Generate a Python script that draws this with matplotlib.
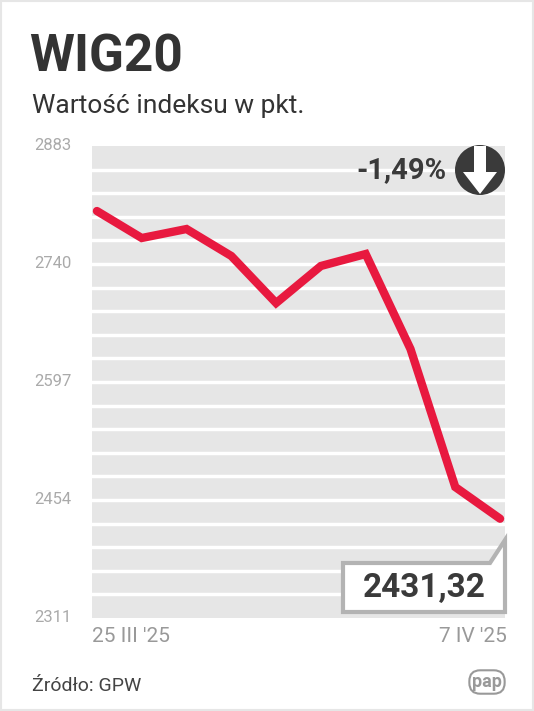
import matplotlib
matplotlib.use("Agg")
import matplotlib.pyplot as plt
from matplotlib.patches import Polygon, Circle, Rectangle
import numpy as np

dates = ["25 III '25", "26 III", "27 III", "28 III", "31 III", "1 IV", "2 IV", "3 IV", "4 IV", "7 IV '25"]
values = [2804.2, 2771.5, 2782.4, 2749.7, 2692.7, 2737.6, 2752.1, 2637.0, 2469.7, 2431.32]
yticks = [2311, 2454, 2597, 2740, 2883]
change_label = "-1,49%"
last_label = "2431,32"

W, H = 534, 711
fig = plt.figure(figsize=(W/100, H/100), dpi=100)
fig.patch.set_facecolor("white")

def px(x, y):
    return (x / W, 1 - y / H)

fig.patches.append(Rectangle((0.002, 0.002), 0.996, 0.996, transform=fig.transFigure,
                             fill=False, edgecolor="#e6e6e6", lw=1.5))

ax = fig.add_axes([92/W, 1-618/H, (505-92)/W, (618-146)/H])
ax.set_facecolor("#e6e6e6")
ymin, ymax = 2311, 2883
ax.set_ylim(ymin, ymax)
ax.set_xlim(-0.11, 9.11)
step = (ymax - ymin) / 20
for k in range(1, 20):
    ax.axhline(ymin + k * step, color="white", lw=2.5, zorder=1)
for s in ax.spines.values():
    s.set_visible(False)
ax.tick_params(length=0)
ax.set_xticks([])
ax.set_yticks([])
x = np.arange(len(values))
ax.plot(x, values, color="#e8193f", lw=6, solid_joinstyle="miter", solid_capstyle="round", zorder=3)

for v in yticks:
    yy = 146 + (ymax - v) / (ymax - ymin) * 472
    fig.text(*px(34, yy), str(v), fontsize=12, color="#aaaaaa", va="center", ha="left", family="Roboto")

fig.text(*px(92, 636), dates[0], fontsize=15, color="#999999", va="center", ha="left", family="Roboto")
fig.text(*px(507, 636), dates[-1], fontsize=15, color="#999999", va="center", ha="right", family="Roboto")

fig.text(*px(29, 58), "WIG20", fontsize=37, fontweight="bold", color="#333333", va="center", ha="left", family="Roboto")
fig.text(*px(32, 106), "Wartość indeksu w pkt.", fontsize=19, color="#333333", va="center", ha="left", family="Roboto")

fig.text(*px(447, 170), change_label, fontsize=21, fontweight="bold", color="#3a3a3a", va="center", ha="right",
         family="Roboto")
fig.patches.append(Circle((480, H-170), 25, transform=None, facecolor="#3a3a3a", edgecolor="none"))
arrow = [(474, 146), (486, 146), (486, 172), (497, 172), (480, 194), (463, 172), (474, 172)]
fig.patches.append(Polygon([(a, H-b) for a, b in arrow], closed=True, transform=None, facecolor="white", edgecolor="none"))

box = [(343, 563), (490, 563), (505, 540), (505, 612), (343, 612)]
fig.patches.append(Polygon([(a, H-b) for a, b in box], closed=True, transform=None,
                           facecolor="white", edgecolor="#b3b3b3", lw=3, zorder=5))
fig.text(*px(424, 588), last_label, fontsize=24, fontweight="bold", color="#3a3a3a", va="center", ha="center",
         family="Roboto", zorder=6)

fig.text(*px(32, 686), "Źródło: GPW", fontsize=14, color="#444444", va="center", ha="left", family="Roboto")
fig.text(*px(487, 682), "pap", fontsize=13, fontweight="bold", color="#999999", va="center", ha="center",
         family="Roboto", bbox=dict(boxstyle="round,pad=0.15,rounding_size=0.6", fc="white", ec="#999999", lw=1.5))

fig.savefig("out.png", dpi=100)
